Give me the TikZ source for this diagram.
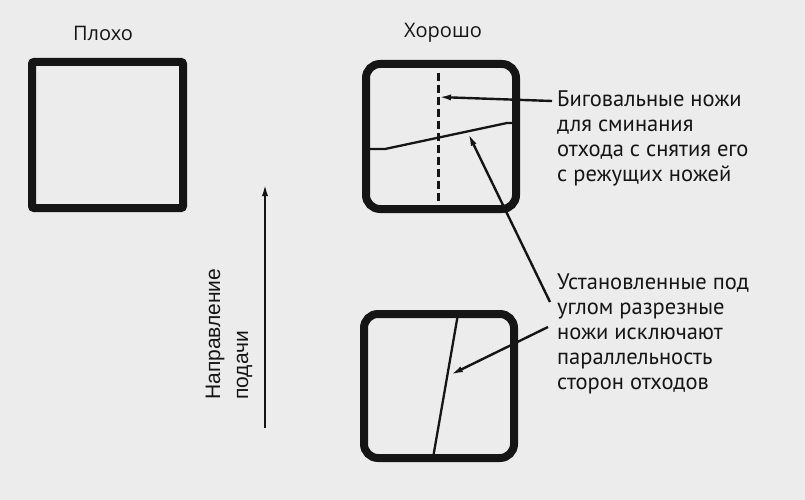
\documentclass[tikz,border=0pt]{standalone}
\usepackage{fontspec}
\setmainfont{PT Sans}
\newfontfamily\titlefont{Open Sans}
\newfontfamily\feedfont{Liberation Sans}
\usetikzlibrary{arrows.meta}
\definecolor{paper}{HTML}{ECECEC}
\definecolor{ink}{HTML}{151515}
\tikzset{
  frame/.style={line width=8pt, color=ink},
  cut/.style={line width=2.3pt, color=ink},
  pointer/.style={line width=2.4pt, color=ink, -{Latex[length=13pt,width=6pt]}},
  note/.style={align=left, inner sep=0, text=ink, font=\fontsize{22.5}{25}\selectfont},
  heading/.style={inner sep=0, text=ink, font=\titlefont\fontsize{20}{24}\selectfont}
}

\begin{document}
\begin{tikzpicture}[x=1pt,y=-1pt]

    \fill [paper] (0,0) rectangle (805,500);
    \useasboundingbox (0,0) rectangle (805,500);

    \node (a) [heading] at (103,33) {Плохо};
    \draw [frame, rounded corners=2pt] (32,62) rectangle (183,208);

    \node (A) [heading] at (443,33) {Хорошо};
    \draw [frame, rounded corners=14pt] (366,64) rectangle (516,209);
    \draw [cut, line width=3pt, dash pattern=on 8pt off 4pt] (438,73) -- (438,203);
    \draw [cut] (366,149) -- (385,149) -- (507,123) -- (516,123);
    \coordinate (b) at (438,97);
    \coordinate (c) at (468,133);

    \draw [frame, rounded corners=14pt] (364,314) rectangle (514,458);
    \draw [cut] (458,314) -- (433,458);
    \coordinate (C) at (450,375);

    \node (d) [note, anchor=north west] at (557,91) {Биговальные ножи\\для сминания\\отхода с снятия его\\с режущих ножей};
    \node (e) [note, anchor=north west] at (557,274) {Установленные под\\углом разрезные\\ножи исключают\\параллельность\\сторон отходов};
    \coordinate (d') at (552,101);
    \coordinate (e') at (550,302);
    \coordinate (e'') at (548,327);

    \draw [pointer] (d') -- (b);
    \draw [pointer] (e') -- (c);
    \draw [pointer] (e'') -- (C);

    \coordinate (f) at (265,428);
    \coordinate (F) at (265,183);
    \draw [pointer] (f) -- (F);
    \node (g) [rotate=90, anchor=west, align=left, inner sep=0, text=ink,
      font=\feedfont\fontsize{21}{28}\selectfont] at (229,400) {Направление\\подачи};

\end{tikzpicture}
\end{document}
